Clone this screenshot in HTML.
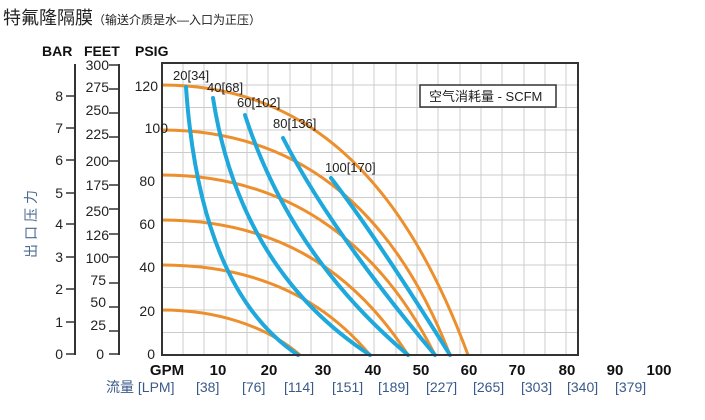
<!DOCTYPE html>
<html><head><meta charset="utf-8"><style>
body{margin:0;background:#fff;width:705px;height:420px;overflow:hidden}
svg{display:block;font-family:"Liberation Sans","Noto Sans CJK SC",sans-serif}
</style></head><body>
<svg width="705" height="420" viewBox="0 0 705 420">
<text x="3" y="24" font-size="18" fill="#222">特氟隆隔膜<tspan font-size="12">（输送介质是水—入口为正压）</tspan></text>
<g font-weight="bold" font-size="14" fill="#111">
<text x="42" y="56">BAR</text><text x="84" y="56">FEET</text><text x="135" y="56">PSIG</text>
</g>
<text font-size="14" fill="#4a6a90" transform="translate(36,258) rotate(-90)" letter-spacing="4">出口压力</text>
<!-- grid -->
<g stroke="#ccc" stroke-width="1">
<line x1="183" y1="63" x2="183" y2="355"/><line x1="204" y1="63" x2="204" y2="355"/><line x1="226" y1="63" x2="226" y2="355"/><line x1="247" y1="63" x2="247" y2="355"/><line x1="268" y1="63" x2="268" y2="355"/><line x1="290" y1="63" x2="290" y2="355"/><line x1="311" y1="63" x2="311" y2="355"/><line x1="332" y1="63" x2="332" y2="355"/><line x1="353" y1="63" x2="353" y2="355"/><line x1="374" y1="63" x2="374" y2="355"/><line x1="396" y1="63" x2="396" y2="355"/><line x1="417" y1="63" x2="417" y2="355"/><line x1="438" y1="63" x2="438" y2="355"/><line x1="460" y1="63" x2="460" y2="355"/><line x1="481" y1="63" x2="481" y2="355"/><line x1="502" y1="63" x2="502" y2="355"/><line x1="524" y1="63" x2="524" y2="355"/><line x1="545" y1="63" x2="545" y2="355"/><line x1="566" y1="63" x2="566" y2="355"/>
<line x1="162" y1="85" x2="578" y2="85"/><line x1="162" y1="107.5" x2="578" y2="107.5"/><line x1="162" y1="130" x2="578" y2="130"/><line x1="162" y1="152.5" x2="578" y2="152.5"/><line x1="162" y1="175" x2="578" y2="175"/><line x1="162" y1="197.5" x2="578" y2="197.5"/><line x1="162" y1="220" x2="578" y2="220"/><line x1="162" y1="242.5" x2="578" y2="242.5"/><line x1="162" y1="265" x2="578" y2="265"/><line x1="162" y1="287.5" x2="578" y2="287.5"/><line x1="162" y1="310" x2="578" y2="310"/><line x1="162" y1="332.5" x2="578" y2="332.5"/>
</g>
<!-- orange -->
<g fill="none" stroke="#ec8f2c" stroke-width="3">
<path d="M162,85 C300,85 400,170 468,355"/>
<path d="M162,130 C290,130 390,200 450,355"/>
<path d="M162,175 C280,175 375,235 435,355"/>
<path d="M162,220 C270,220 350,265 408,355"/>
<path d="M162,265 C250,265 320,295 370,355"/>
<path d="M162,310 C215,310 265,325 300,355"/>
</g>
<!-- blue -->
<g fill="none" stroke="#1ea8dc" stroke-width="4" stroke-linecap="round">
<path d="M186,87 Q200,290 298,355"/>
<path d="M213,98 Q240,270 370,355"/>
<path d="M245,115 Q290,255 408,355"/>
<path d="M283,138 Q330,230 435,355"/>
<path d="M331,178 Q375,235 450,355"/>
</g>
<rect x="162" y="63" width="416" height="292" fill="none" stroke="#333" stroke-width="2"/>
<g font-size="13" fill="#222">
<text x="173" y="80">20[34]</text><text x="207" y="92">40[68]</text><text x="237" y="107">60[102]</text><text x="273" y="128">80[136]</text><text x="325" y="172">100[170]</text>
</g>
<rect x="420" y="85" width="136" height="22" fill="#fff" stroke="#333" stroke-width="1.5"/>
<text x="429" y="101" font-size="13" fill="#222">空气消耗量 - SCFM</text>
<!-- left axes -->
<g stroke="#333" stroke-width="2" fill="none">
<line x1="75" y1="64" x2="75" y2="355"/>
<line x1="119" y1="64" x2="119" y2="355"/>
</g>
<g stroke="#333" stroke-width="1.5">
<line x1="66" y1="354" x2="75" y2="354"/><line x1="66" y1="322" x2="75" y2="322"/><line x1="66" y1="289" x2="75" y2="289"/><line x1="66" y1="257" x2="75" y2="257"/><line x1="66" y1="224" x2="75" y2="224"/><line x1="66" y1="193" x2="75" y2="193"/><line x1="66" y1="160" x2="75" y2="160"/><line x1="66" y1="128" x2="75" y2="128"/><line x1="66" y1="96" x2="75" y2="96"/>
<line x1="109" y1="65" x2="119" y2="65"/><line x1="109" y1="89" x2="119" y2="89"/><line x1="109" y1="113" x2="119" y2="113"/><line x1="109" y1="137" x2="119" y2="137"/><line x1="109" y1="161" x2="119" y2="161"/><line x1="109" y1="185" x2="119" y2="185"/><line x1="109" y1="209" x2="119" y2="209"/><line x1="109" y1="234" x2="119" y2="234"/><line x1="109" y1="257" x2="119" y2="257"/><line x1="109" y1="283" x2="119" y2="283"/><line x1="109" y1="307" x2="119" y2="307"/><line x1="109" y1="331" x2="119" y2="331"/><line x1="109" y1="354" x2="119" y2="354"/>
</g>
<g font-size="14" fill="#222" text-anchor="end">
<text x="63" y="359">0</text><text x="63" y="327">1</text><text x="63" y="294">2</text><text x="63" y="262">3</text><text x="63" y="229">4</text><text x="63" y="198">5</text><text x="63" y="165">6</text><text x="63" y="133">7</text><text x="63" y="101">8</text>
<text x="109" y="70">300</text><text x="109" y="92">275</text><text x="109" y="115">250</text><text x="109" y="139">225</text><text x="109" y="166">200</text><text x="109" y="190">175</text><text x="109" y="216">250</text><text x="109" y="240">126</text><text x="109" y="263">100</text><text x="106" y="285">75</text><text x="106" y="307">50</text><text x="106" y="330">25</text><text x="104" y="359">0</text>
<text x="158" y="91">120</text><text x="168" y="133">100</text><text x="155" y="186">80</text><text x="155" y="229">60</text><text x="155" y="272">40</text><text x="155" y="316">20</text><text x="155" y="359">0</text>
</g>
<g font-size="15" font-weight="bold" fill="#111" text-anchor="middle">
<text x="167" y="375">GPM</text><text x="218" y="375">10</text><text x="269" y="375">20</text><text x="323" y="375">30</text><text x="373" y="375">40</text><text x="421" y="375">50</text><text x="469" y="375">60</text><text x="517" y="375">70</text><text x="567" y="375">80</text><text x="615" y="375">90</text><text x="659" y="375">100</text>
</g>
<g font-size="14" fill="#3a5a8a">
<text x="106" y="392">流量 [LPM]</text><text x="196" y="392">[38]</text><text x="242" y="392">[76]</text><text x="284" y="392">[114]</text><text x="332" y="392">[151]</text><text x="378" y="392">[189]</text><text x="426" y="392">[227]</text><text x="473" y="392">[265]</text><text x="521" y="392">[303]</text><text x="567" y="392">[340]</text><text x="615" y="392">[379]</text>
</g>
</svg>
</body></html>
